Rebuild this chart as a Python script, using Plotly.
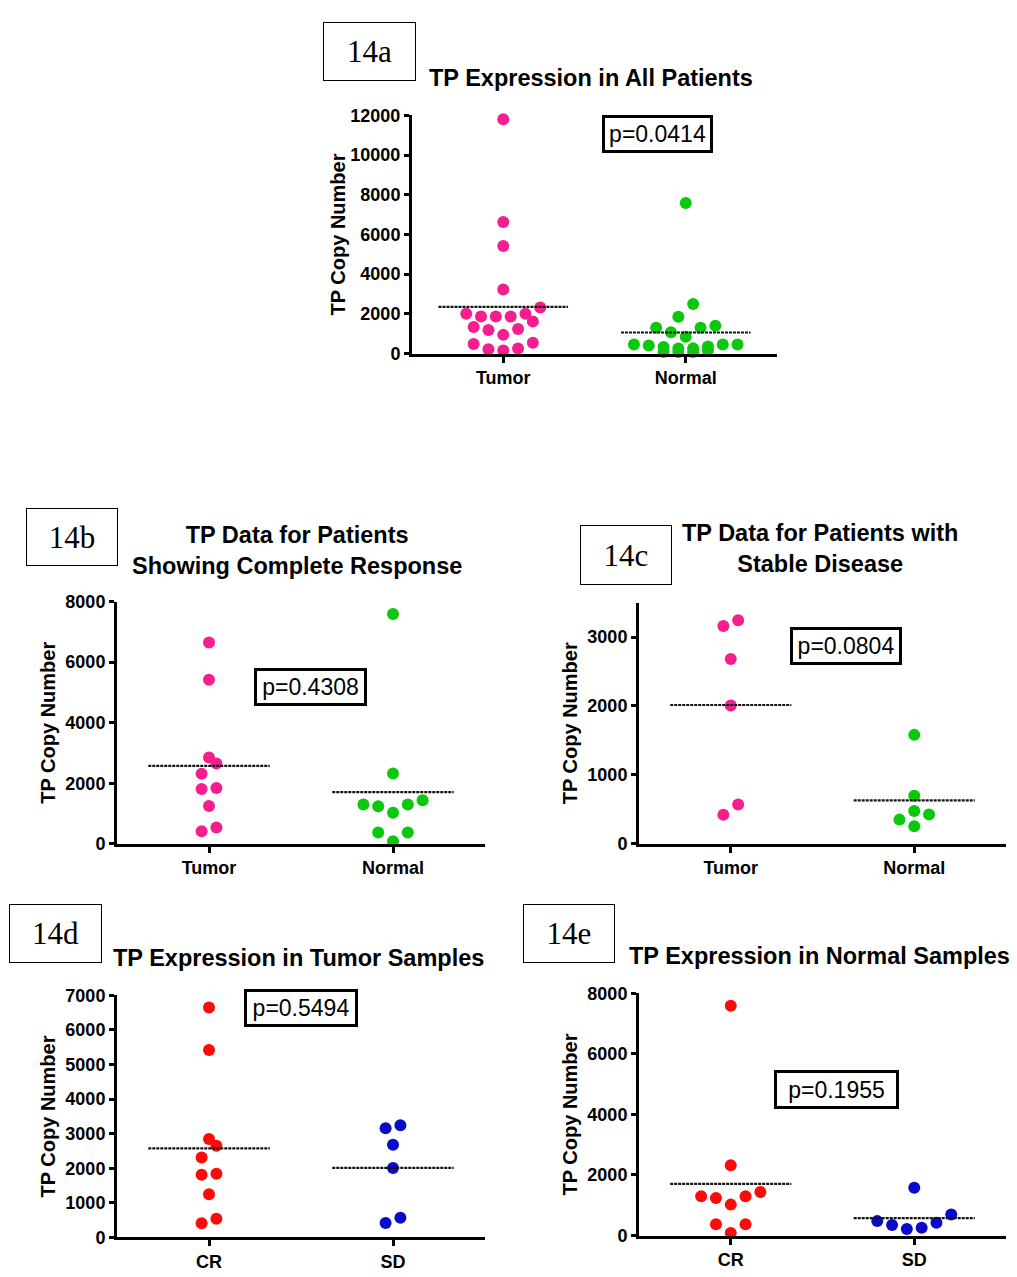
import plotly.graph_objects as go

W, H = 1017, 1277

# ---------------- data ----------------
a_categories = ["Tumor", "Normal"]
a_tumor = [11800, 6630, 5420, 3230, 2320, 2000, 2000, 1860, 1860, 1860,
           1610, 1340, 1240, 1190, 940, 540, 480, 250, 210, 150]
a_normal = [7580, 2490, 1850, 1400, 1300, 1300, 1070, 840, 460, 460,
            460, 410, 350, 330, 260, 250, 160, 80, 80, 80]

b_categories = ["Tumor", "Normal"]
b_tumor = [6650, 5420, 2850, 2650, 2310, 1840, 1810, 1250, 540, 410]
b_normal = [7590, 2320, 1440, 1300, 1300, 1240, 1020, 370, 370, 80]

c_categories = ["Tumor", "Normal"]
c_tumor = [3245, 3160, 2680, 2005, 570, 420]
c_normal = [1580, 695, 475, 425, 350, 255]

d_categories = ["CR", "SD"]
d_cr = [6650, 5420, 2850, 2650, 2310, 1840, 1810, 1250, 540, 410]
d_sd = [3245, 3160, 2680, 2005, 570, 420]

e_categories = ["CR", "SD"]
e_cr = [7590, 2320, 1440, 1300, 1300, 1240, 1020, 370, 370, 80]
e_sd = [1580, 695, 475, 425, 350, 255, 215]

titles = {
    "a": "TP Expression in All Patients",
    "b": "TP Data for Patients<br>Showing Complete Response",
    "c": "TP Data for Patients with<br>Stable Disease",
    "d": "TP Expression in Tumor Samples",
    "e": "TP Expression in Normal Samples",
}
labels = {"a": "14a", "b": "14b", "c": "14c", "d": "14d", "e": "14e"}
pvalues = {"a": "p=0.0414", "b": "p=0.4308", "c": "p=0.0804",
           "d": "p=0.5494", "e": "p=0.1955"}
y_ticks = {
    "a": [0, 2000, 4000, 6000, 8000, 10000, 12000],
    "b": [0, 2000, 4000, 6000, 8000],
    "c": [0, 1000, 2000, 3000],
    "d": [0, 1000, 2000, 3000, 4000, 5000, 6000, 7000],
    "e": [0, 2000, 4000, 6000, 8000],
}
y_max = {"a": 12000, "b": 8000, "c": 3500, "d": 7000, "e": 8000}

PINK, GREEN, RED, BLUE = "#F41E8E", "#0CC80C", "#FF0A0A", "#0A0ACD"

# ---------------- layout geometry (pixels) ----------------
panels = [
    dict(k="a", cats=a_categories, groups=[a_tumor, a_normal], colors=[PINK, GREEN],
         xpx=(412, 777), ypx=(107, 349), halfw=0.355,
         title_xy=(591, 69), label_box=(323, 13, 416, 72),
         pbox=(602, 107, 713, 145), ytitle_x=338),
    dict(k="b", cats=b_categories, groups=[b_tumor, b_normal], colors=[PINK, GREEN],
         xpx=(117, 485), ypx=(601, 847), halfw=0.33,
         title_xy=(297, 549), label_box=(26, 506, 118, 564),
         pbox=(254, 669, 367, 707), ytitle_x=48),
    dict(k="c", cats=c_categories, groups=[c_tumor, c_normal], colors=[PINK, GREEN],
         xpx=(639, 1006), ypx=(602, 847), halfw=0.33,
         title_xy=(820, 547), label_box=(580, 524, 672, 584),
         pbox=(790, 627, 902, 665), ytitle_x=570),
    dict(k="d", cats=d_categories, groups=[d_cr, d_sd], colors=[RED, BLUE],
         xpx=(117, 485), ypx=(1001, 1247), halfw=0.33,
         title_xy=(298, 963), label_box=(9, 909, 102, 968),
         pbox=(244, 995, 358, 1033), ytitle_x=48),
    dict(k="e", cats=e_categories, groups=[e_cr, e_sd], colors=[RED, BLUE],
         xpx=(639, 1006), ypx=(999, 1245), halfw=0.33,
         title_xy=(819, 961), label_box=(523, 909, 615, 968),
         pbox=(774, 1077, 899, 1116), ytitle_x=570),
]

SANS = "Liberation Sans, Arial, Helvetica, sans-serif"
SERIF = "Liberation Serif, Times New Roman, serif"


def px_x(x):
    return x / W


def px_y(y):
    return 1 - y / H


def swarm_offsets(values, ypx_per_unit, xunits_per_px, row_h=15.0, step=14.8, maxn=8):
    """GraphPad-like column scatter: group close values into rows, spread each row."""
    order = sorted(range(len(values)), key=lambda i: values[i])
    rows, i, n = [], 0, len(order)
    while i < n:
        start = values[order[i]]
        row, j = [], i
        while j < n and (values[order[j]] - start) * ypx_per_unit <= row_h:
            row.append(order[j])
            j += 1
        while len(row) > maxn:
            rows.append(row[:len(row) - maxn])
            row = row[len(row) - maxn:]
        rows.append(row)
        i = j
    off = [0.0] * len(values)
    for row in rows:
        m = len(row)
        for k, idx in enumerate(row):
            if m % 2:
                slot = 0 if k == 0 else ((k + 1) // 2) * (-1 if k % 2 else 1)
            else:
                slot = (k // 2 + 0.5) * (-1 if k % 2 == 0 else 1)
            off[idx] = slot * step * xunits_per_px
    return off


fig = go.Figure()
annotations = []
layout_axes = {}

for n, p in enumerate(panels, start=1):
    k = p["k"]
    xs = "" if n == 1 else str(n)
    xref, yref = "x" + xs, "y" + xs
    x0, x1 = p["xpx"]
    yt, yb = p["ypx"]
    ypx_per_unit = (yb - yt) / y_max[k]
    xunits_per_px = 2.0 / (x1 - x0)

    for gi, (vals, col) in enumerate(zip(p["groups"], p["colors"])):
        offs = swarm_offsets(vals, ypx_per_unit, xunits_per_px)
        fig.add_trace(go.Scatter(
            x=[gi + o for o in offs], y=vals, mode="markers",
            marker=dict(size=12, color=col, line=dict(width=0)),
            xaxis=xref, yaxis=yref, cliponaxis=False, showlegend=False,
            hoverinfo="y"))
        mean = sum(vals) / len(vals)
        fig.add_trace(go.Scatter(
            x=[gi - p["halfw"], gi + p["halfw"]], y=[mean, mean], mode="lines",
            line=dict(color="#111111", width=2.2, dash="3px,1px"),
            xaxis=xref, yaxis=yref, showlegend=False, hoverinfo="skip"))

    layout_axes["xaxis" + xs] = dict(
        domain=[px_x(x0), px_x(x1)], range=[-0.5, 1.5], anchor=yref,
        tickmode="array", tickvals=[0, 1], ticktext=p["cats"],
        ticks="outside", ticklen=6, tickwidth=3, tickcolor="black",
        showline=True, linewidth=3, linecolor="black",
        showgrid=False, zeroline=False, fixedrange=True,
        tickfont=dict(family=SANS, size=18, color="black", weight="bold"))
    layout_axes["yaxis" + xs] = dict(
        domain=[px_y(yb), px_y(yt)], range=[0, y_max[k]], anchor=xref,
        tickmode="array", tickvals=y_ticks[k], tickformat="d",
        ticks="outside", ticklen=5, tickwidth=3, tickcolor="black",
        showline=True, linewidth=3, linecolor="black",
        showgrid=False, zeroline=False, fixedrange=True,
        tickfont=dict(family=SANS, size=18, color="black", weight="bold"))

    # title
    tx, ty = p["title_xy"]
    annotations.append(dict(
        x=px_x(tx), y=px_y(ty), xref="paper", yref="paper",
        xanchor="center", yanchor="middle", showarrow=False,
        text="<b>" + titles[k] + "</b>", align="center",
        font=dict(family=SANS, size=23.5, color="black")))
    # label box
    lx0, ly0, lx1, ly1 = p["label_box"]
    annotations.append(dict(
        x=px_x((lx0 + lx1) / 2), y=px_y((ly0 + ly1) / 2), xref="paper", yref="paper",
        xanchor="center", yanchor="middle", showarrow=False,
        text=labels[k], width=lx1 - lx0 - 2, height=ly1 - ly0 - 2,
        bordercolor="black", borderwidth=1, borderpad=0, bgcolor="white",
        font=dict(family=SERIF, size=31, color="black")))
    # p-value box
    bx0, by0, bx1, by1 = p["pbox"]
    annotations.append(dict(
        x=px_x((bx0 + bx1) / 2), y=px_y((by0 + by1) / 2), xref="paper", yref="paper",
        xanchor="center", yanchor="middle", showarrow=False,
        text=pvalues[k], width=bx1 - bx0 - 6, height=by1 - by0 - 6,
        bordercolor="black", borderwidth=3, borderpad=0, bgcolor="white",
        font=dict(family=SANS, size=23, color="black")))
    # y-axis title
    annotations.append(dict(
        x=px_x(p["ytitle_x"]), y=px_y((yt + yb) / 2), xref="paper", yref="paper",
        xanchor="center", yanchor="middle", showarrow=False, textangle=-90,
        text="<b>TP Copy Number</b>",
        font=dict(family=SANS, size=20, color="black")))

fig.update_layout(
    width=W, height=H, margin=dict(l=0, r=0, t=0, b=0),
    paper_bgcolor="white", plot_bgcolor="white", hovermode=False,
    showlegend=False, annotations=annotations, **layout_axes)

fig.write_html(
    "out.html", config={"displayModeBar": False},
    post_script="document.body.style.margin='0';document.body.style.overflow='hidden';")
